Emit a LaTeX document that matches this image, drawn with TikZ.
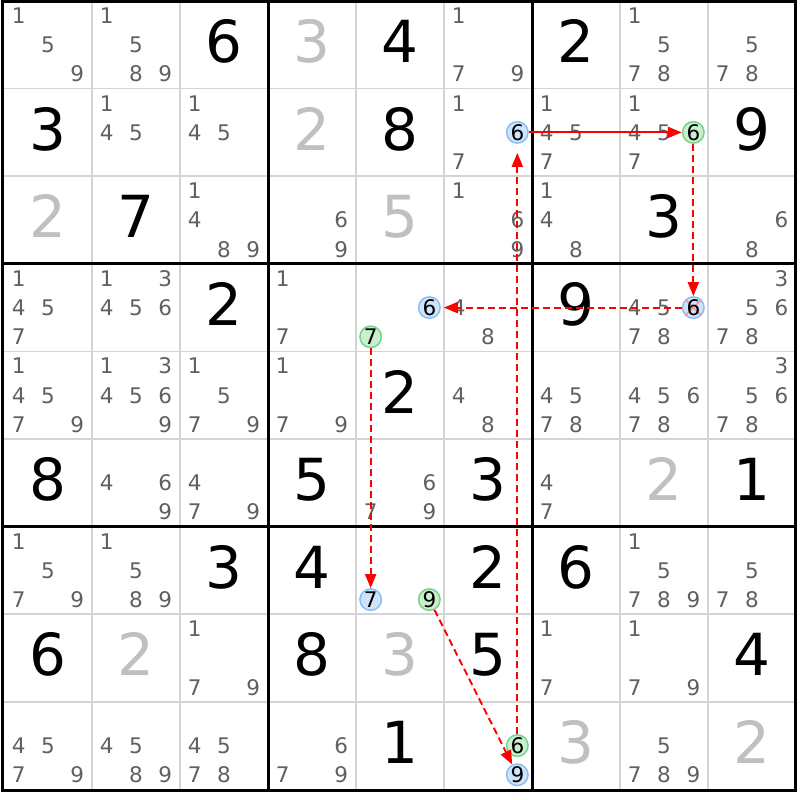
\documentclass[tikz,border=0pt]{standalone}
\usepackage{fontspec}
\setmainfont{DejaVu Sans}
\usetikzlibrary{arrows.meta}
\definecolor{candc}{RGB}{96,96,96}
\definecolor{solvedc}{RGB}{192,192,192}
\definecolor{gridc}{RGB}{212,212,212}
\definecolor{bluefill}{RGB}{206,228,252}
\definecolor{blueline}{RGB}{140,190,240}
\definecolor{greenfill}{RGB}{200,240,206}
\definecolor{greenline}{RGB}{120,210,135}
\definecolor{arrowred}{RGB}{255,0,0}
\definecolor{xred}{RGB}{255,150,150}
\tikzset{
  cand/.style={inner sep=0pt, text height=15.7pt, text depth=0pt, font=\fontsize{21.5}{21.5}\selectfont, text=candc},
  given/.style={inner sep=0pt, text height=42.5pt, text depth=0pt, font=\fontsize{58}{58}\selectfont},
  hl/.style={circle, inner sep=0pt, minimum size=21.5pt, line width=1.5pt, text height=15.7pt, text depth=0pt, font=\fontsize{21.5}{21.5}\selectfont, text=black},
  bluehl/.style={hl, draw=blueline, fill=bluefill},
  greenhl/.style={hl, draw=greenline, fill=greenfill},
  hltext/.style={inner sep=0pt, text height=15.7pt, text depth=0pt, font=\fontsize{21.5}{21.5}\selectfont, text=black},
  xmark/.style={draw=xred, line width=1.5pt},
  thingrid/.style={draw=gridc, line width=1.5pt},
  thickgrid/.style={draw=black, line width=3pt},
  link/.style={color=arrowred, draw=arrowred, fill=none, line width=1.9pt, -{Triangle[length=14pt,width=11pt,fill=arrowred]}},
  weak/.style={link, dash pattern=on 7pt off 4pt}
}
\newcommand\sdkcand[3]{%
  \foreach \dd in {#3}{%
    \pgfmathsetmacro\px{4+(#2-1)*88+(mod(\dd-1,3)+0.5)*88/3}%
    \pgfmathsetmacro\py{1+(#1-1)*87.6+(floor((\dd-1)/3)+0.5)*87.6/3}%
    \node[cand] (c#1#2\dd) at (\px,\py) {\dd};
  }}
\newcommand\sdkhl[5]{%
  \pgfmathsetmacro\px{4+(#2-1)*88+(mod(#3-1,3)+0.5)*88/3}%
  \pgfmathsetmacro\py{1+(#1-1)*87.6+(floor((#3-1)/3)+0.5)*87.6/3}%
  \node[#4] (#5) at (\px,\py) {#3};}
\newcommand\sdkgiven[4]{%
  \pgfmathsetmacro\px{4+(#2-1)*88+44}%
  \pgfmathsetmacro\py{1+(#1-1)*87.6+40.45}%
  \node[given, text=#4] (v#1#2) at (\px,\py) {#3};}
\begin{document}
\begin{tikzpicture}[x=1pt,y=-1pt]
\fill[white] (0,0) rectangle (800,800);
\useasboundingbox (0,0) rectangle (800,800);
% grid
\foreach \i in {1,2,4,5,7,8}{
  \draw[thingrid] ({4+\i*88},1.5) -- ({4+\i*88},790.5);
  \draw[thingrid] (2.5,{1+\i*87.6}) -- (795.5,{1+\i*87.6});
}
\foreach \i in {3,6}{
  \draw[thickgrid] ({4+\i*88},1.5) -- ({4+\i*88},790.5);
  \draw[thickgrid] (2.5,{1+\i*87.6}) -- (795.5,{1+\i*87.6});
}
\draw[thickgrid] (2.5,1.5) rectangle (795.5,790.5);
% row 1
\sdkcand{1}{1}{1,5,9}
\sdkcand{1}{2}{1,5,8,9}
\sdkgiven{1}{3}{6}{black}
\sdkgiven{1}{4}{3}{solvedc}
\sdkgiven{1}{5}{4}{black}
\sdkcand{1}{6}{1,7,9}
\sdkgiven{1}{7}{2}{black}
\sdkcand{1}{8}{1,5,7,8}
\sdkcand{1}{9}{5,7,8}
% row 2
\sdkgiven{2}{1}{3}{black}
\sdkcand{2}{2}{1,4,5}
\sdkcand{2}{3}{1,4,5}
\sdkgiven{2}{4}{2}{solvedc}
\sdkgiven{2}{5}{8}{black}
\sdkcand{2}{6}{1,7}
\sdkhl{2}{6}{6}{bluehl}{hB26}
\sdkcand{2}{7}{1,4,5,7}
\sdkcand{2}{8}{1,4,5,7}
\sdkhl{2}{8}{6}{greenhl}{hG28}
\sdkgiven{2}{9}{9}{black}
% row 3
\sdkgiven{3}{1}{2}{solvedc}
\sdkgiven{3}{2}{7}{black}
\sdkcand{3}{3}{1,4,8,9}
\sdkcand{3}{4}{6,9}
\sdkgiven{3}{5}{5}{solvedc}
\sdkcand{3}{6}{1,6,9}
\sdkcand{3}{7}{1,4,8}
\sdkgiven{3}{8}{3}{black}
\sdkcand{3}{9}{6,8}
% row 4
\sdkcand{4}{1}{1,4,5,7}
\sdkcand{4}{2}{1,3,4,5,6}
\sdkgiven{4}{3}{2}{black}
\sdkcand{4}{4}{1,7}
\sdkhl{4}{5}{6}{bluehl}{hB45}
\sdkhl{4}{5}{7}{greenhl}{hG45}
\sdkcand{4}{6}{4,8}
\sdkgiven{4}{7}{9}{black}
\sdkcand{4}{8}{4,5,7,8}
\pgfmathsetmacro\px{4+7*88+2.5*88/3}
\pgfmathsetmacro\py{1+3*87.6+1.5*87.6/3}
\node[bluehl] (hB48) at (\px,\py) {};
\draw[xmark] (hB48.north west) -- (hB48.south east) (hB48.north east) -- (hB48.south west);
\node[hltext] (t48) at (hB48.center) {6};
\sdkcand{4}{9}{3,5,6,7,8}
% row 5
\sdkcand{5}{1}{1,4,5,7,9}
\sdkcand{5}{2}{1,3,4,5,6,9}
\sdkcand{5}{3}{1,5,7,9}
\sdkcand{5}{4}{1,7,9}
\sdkgiven{5}{5}{2}{black}
\sdkcand{5}{6}{4,8}
\sdkcand{5}{7}{4,5,7,8}
\sdkcand{5}{8}{4,5,6,7,8}
\sdkcand{5}{9}{3,5,6,7,8}
% row 6
\sdkgiven{6}{1}{8}{black}
\sdkcand{6}{2}{4,6,9}
\sdkcand{6}{3}{4,7,9}
\sdkgiven{6}{4}{5}{black}
\sdkcand{6}{5}{6,7,9}
\sdkgiven{6}{6}{3}{black}
\sdkcand{6}{7}{4,7}
\sdkgiven{6}{8}{2}{solvedc}
\sdkgiven{6}{9}{1}{black}
% row 7
\sdkcand{7}{1}{1,5,7,9}
\sdkcand{7}{2}{1,5,8,9}
\sdkgiven{7}{3}{3}{black}
\sdkgiven{7}{4}{4}{black}
\sdkhl{7}{5}{7}{bluehl}{hB75}
\sdkhl{7}{5}{9}{greenhl}{hG75}
\sdkgiven{7}{6}{2}{black}
\sdkgiven{7}{7}{6}{black}
\sdkcand{7}{8}{1,5,7,8,9}
\sdkcand{7}{9}{5,7,8}
% row 8
\sdkgiven{8}{1}{6}{black}
\sdkgiven{8}{2}{2}{solvedc}
\sdkcand{8}{3}{1,7,9}
\sdkgiven{8}{4}{8}{black}
\sdkgiven{8}{5}{3}{solvedc}
\sdkgiven{8}{6}{5}{black}
\sdkcand{8}{7}{1,7}
\sdkcand{8}{8}{1,7,9}
\sdkgiven{8}{9}{4}{black}
% row 9
\sdkcand{9}{1}{4,5,7,9}
\sdkcand{9}{2}{4,5,8,9}
\sdkcand{9}{3}{4,5,7,8}
\sdkcand{9}{4}{6,7,9}
\sdkgiven{9}{5}{1}{black}
\sdkhl{9}{6}{6}{greenhl}{hG96}
\sdkhl{9}{6}{9}{bluehl}{hB96}
\sdkgiven{9}{7}{3}{solvedc}
\sdkcand{9}{8}{5,7,8,9}
\sdkgiven{9}{9}{2}{solvedc}
% links
\draw[weak, shorten >=9pt] (hG96) -- (hB26);
\draw[link] (hB26) -- (hG28);
\draw[weak] (hG28) -- (hB48);
\draw[weak, shorten >=3pt] (hB48) -- (hB45);
\draw[weak] (hG45) -- (hB75);
\draw[weak] (hG75) -- (hB96);
\end{tikzpicture}
\end{document}
